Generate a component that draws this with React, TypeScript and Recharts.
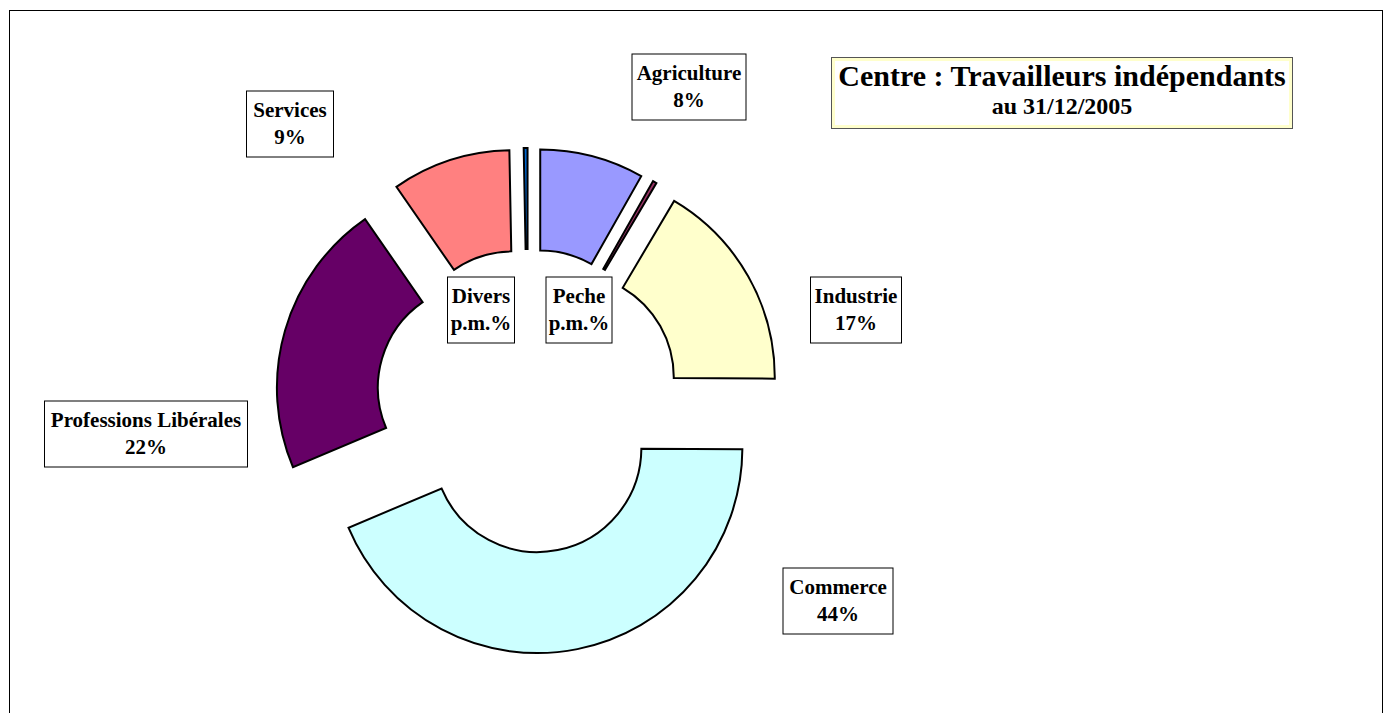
import React from "react";
import { PieChart, Pie, Cell } from "recharts";

const categories = [
  "Agriculture",
  "Peche",
  "Industrie",
  "Commerce",
  "Professions Libérales",
  "Services",
  "Divers",
];
const shares = [8.2, 0.3, 16.6, 43.55, 21.7, 9.35, 0.3];
const colors = ["#9999ff", "#993366", "#ffffcc", "#ccffff", "#660066", "#ff8080", "#0066cc"];

const title = "Centre : Travailleurs indépendants";
const subtitle = "au 31/12/2005";

// label boxes, placed by hand like in the original sheet (center x, center y, width)
const labelBoxes = [
  { x: 689, y: 87, w: 114 },
  { x: 579, y: 310, w: 66 },
  { x: 856, y: 310, w: 91 },
  { x: 838, y: 601, w: 110 },
  { x: 146, y: 434, w: 203 },
  { x: 290, y: 124, w: 87 },
  { x: 481, y: 310, w: 67 },
];

const data = categories.map((name, i) => ({ name, value: shares[i] }));
const total = shares.reduce((a, b) => a + b, 0);

const CX = 528;
const CY = 401;
const EXPLODE = 48;
const FONT = '"Liberation Serif", "Times New Roman", serif';

const pctText = (v: number) => (v < 1 ? "p.m.%" : `${Math.round((v / total) * 100)}%`);

// mid angle of each slice, clockwise from 12 o'clock
const midAngles: number[] = [];
let cum = 0;
shares.forEach((v) => {
  midAngles.push(((cum + v / 2) / total) * 360);
  cum += v;
});

const makeLabel = (idx: number) => (props: any) => {
  if (props.index !== idx) return null;
  const b = labelBoxes[idx];
  const h = 66;
  return (
    <g>
      <rect x={b.x - b.w / 2} y={b.y - h / 2} width={b.w} height={h} fill="#fff" stroke="#000" strokeWidth={1} />
      <text x={b.x} y={b.y - 7} textAnchor="middle" fontFamily={FONT} fontWeight="bold" fontSize={21} fill="#000">
        {categories[idx]}
      </text>
      <text x={b.x} y={b.y + 20} textAnchor="middle" fontFamily={FONT} fontWeight="bold" fontSize={21} fill="#000">
        {pctText(shares[idx])}
      </text>
    </g>
  );
};

export default function App() {
  return (
    <div style={{ position: "absolute", left: 0, top: 0, width: 1388, height: 713, overflow: "hidden", background: "#fff" }}>
      <div
        style={{
          position: "absolute",
          left: 9,
          top: 10,
          width: 1374,
          height: 740,
          border: "1px solid #000",
          boxSizing: "border-box",
        }}
      />
      <div style={{ position: "absolute", left: 0, top: 0 }}>
        <PieChart width={1388} height={713} margin={{ top: 0, right: 0, bottom: 0, left: 0 }}>
          {categories.map((cat, idx) => {
            const a = (midAngles[idx] * Math.PI) / 180;
            return (
              <Pie
                key={cat}
                data={data}
                dataKey="value"
                nameKey="name"
                cx={CX + EXPLODE * Math.sin(a)}
                cy={CY - EXPLODE * Math.cos(a)}
                innerRadius={104}
                outerRadius={205}
                startAngle={90}
                endAngle={-270}
                paddingAngle={0}
                isAnimationActive={false}
                labelLine={false}
                label={makeLabel(idx)}
              >
                {data.map((d, i) => (
                  <Cell
                    key={d.name}
                    fill={i === idx ? colors[i] : "none"}
                    stroke={i === idx ? "#000" : "none"}
                    strokeWidth={2}
                  />
                ))}
              </Pie>
            );
          })}
        </PieChart>
      </div>
      <div
        style={{
          position: "absolute",
          left: 831,
          top: 57,
          width: 462,
          height: 72,
          boxSizing: "border-box",
          border: "1px solid #555",
          boxShadow: "inset 3px -3px 0 #ffffcc, inset -3px 3px 0 #ffffcc",
          background: "#fff",
          fontFamily: FONT,
          fontWeight: "bold",
          textAlign: "center",
          color: "#000",
        }}
      >
        <div style={{ fontSize: 30, lineHeight: "32px", marginTop: 2 }}>{title}</div>
        <div style={{ fontSize: 24, lineHeight: "28px" }}>{subtitle}</div>
      </div>
    </div>
  );
}
